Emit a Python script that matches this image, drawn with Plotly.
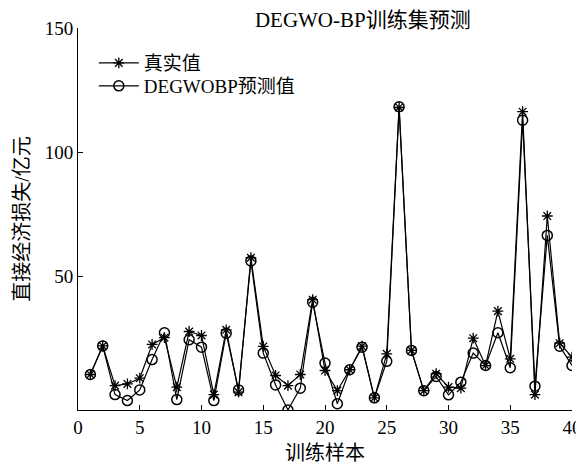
import plotly.graph_objects as go

samples = list(range(1, 41))
actual = [10.5, 22.0, 6.0, 6.7, 9.0, 22.6, 25.3, 5.4, 27.8, 26.2,
          2.4, 28.5, 3.4, 57.5, 21.8, 10.1, 6.0, 10.5, 40.6, 12.1,
          4.0, 12.4, 21.9, 1.1, 18.8, 118.0, 20.2, 4.0, 10.8, 5.4,
          5.0, 25.1, 14.1, 36.0, 16.8, 116.3, 2.4, 74.3, 23.1, 17.5]
predicted = [10.5, 22.0, 2.4, 0.0, 4.3, 16.5, 27.3, 0.4, 24.5, 21.5,
             0.0, 27.1, 4.3, 56.2, 19.1, 6.3, -3.8, 5.0, 39.6, 15.1,
             -1.3, 12.4, 21.5, 1.1, 15.8, 118.3, 20.2, 4.0, 9.7, 2.3,
             7.4, 19.1, 14.1, 27.3, 13.2, 112.9, 5.8, 66.5, 21.9, 14.1]
x_ticks = [0, 5, 10, 15, 20, 25, 30, 35, 40]
y_ticks = [50, 100, 150]

FONT = "Liberation Serif, 'Noto Sans CJK SC', serif"

fig = go.Figure()
fig.add_trace(go.Scatter(
    x=samples, y=actual, mode="lines+markers", name="真实值",
    line=dict(color="black", width=1.2), legend="legend",
    marker=dict(symbol="asterisk-open", size=9, color="black",
                line=dict(color="black", width=1.3)),
))
fig.add_trace(go.Scatter(
    x=samples, y=predicted, mode="lines+markers", name="DEGWOBP预测值",
    line=dict(color="black", width=1.2), legend="legend2",
    marker=dict(symbol="circle-open", size=10, color="black",
                line=dict(color="black", width=1.5)),
))

legend_common = dict(xanchor="left", yanchor="top", bgcolor="rgba(0,0,0,0)",
                     font=dict(size=19, family=FONT), itemwidth=40)

fig.update_layout(
    width=576, height=456,
    margin=dict(l=70, r=12, t=20, b=54),
    paper_bgcolor="white", plot_bgcolor="white",
    font=dict(family=FONT, size=18, color="black"),
    title=dict(text="DEGWO-BP训练集预测", x=0.616, xanchor="center",
               y=0.974, yanchor="middle", font=dict(size=21, family=FONT)),
    showlegend=True,
    legend=dict(x=0.032, y=0.958, **legend_common),
    legend2=dict(x=0.032, y=0.898, **legend_common),
    xaxis=dict(range=[0, 40], tickvals=x_ticks, ticks="inside", ticklen=5,
               tickcolor="black", showline=True, linecolor="black",
               linewidth=1, showgrid=False, zeroline=False, mirror=False,
               automargin=False,
               title=dict(text="训练样本", font=dict(size=20), standoff=10),
               tickfont=dict(size=19)),
    yaxis=dict(range=[-3.8, 150], tickvals=y_ticks, ticks="inside", ticklen=5,
               tickcolor="black", showline=True, linecolor="black",
               linewidth=1, showgrid=False, zeroline=False, mirror=False,
               automargin=False,
               title=dict(text="直接经济损失/亿元", font=dict(size=20), standoff=9),
               tickfont=dict(size=19)),
)

fig.write_html("out.html")
